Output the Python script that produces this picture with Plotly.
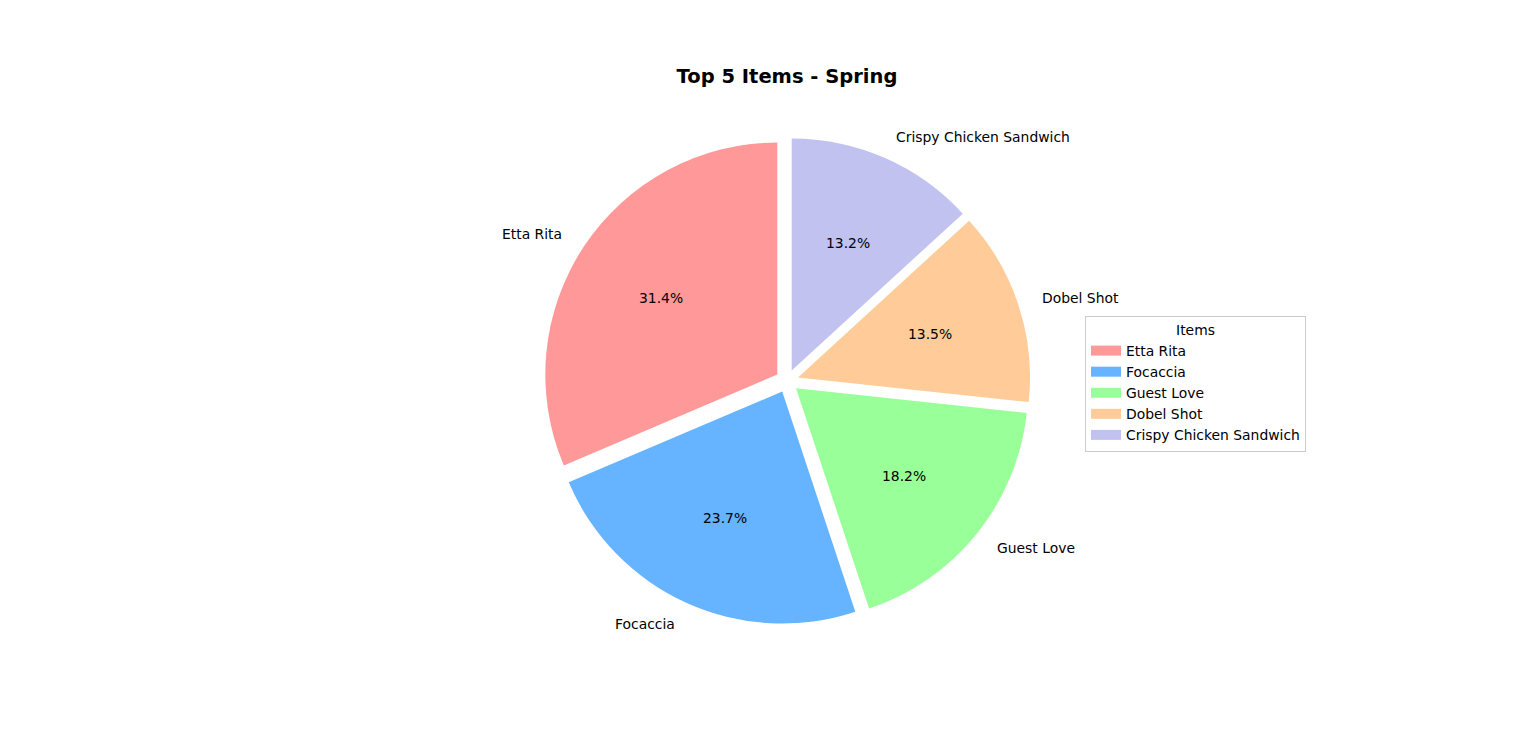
import math
import plotly.graph_objects as go

items = ["Etta Rita", "Focaccia", "Guest Love", "Dobel Shot", "Crispy Chicken Sandwich"]
shares = [31.4, 23.7, 18.2, 13.5, 13.2]
colors = ["#ff9999", "#66b3ff", "#99ff99", "#ffcc99", "#c2c2f0"]

W, H = 1536, 754
cx, cy, R = 779, 373, 232          # figure pixel coords of pie centre / radius
pull = 0.05
half = R * (1 + pull)
dom_x = [(cx - 320) / W, (cx + 320) / W]
dom_y = [1 - (cy + half) / H, 1 - (cy - half) / H]
total = sum(shares)
start_rot = -shares[0] / total * 360

font = "DejaVu Sans"
fs = 13.9
fig = go.Figure()
fig.add_trace(go.Pie(
    labels=items, values=shares, sort=False, direction="counterclockwise",
    rotation=start_rot, pull=[pull] * 5, domain=dict(x=dom_x, y=dom_y),
    marker=dict(colors=colors, line=dict(width=0)),
    textinfo="none", hoverinfo="label+percent", showlegend=False,
))

# legend entries (wide rectangular swatches)
for name, c in zip(items, colors):
    fig.add_trace(go.Scatter(x=[None], y=[None], mode="lines", name=name,
                             line=dict(color=c, width=10), hoverinfo="skip"))

# labels: percentages at 0.6 r, names at 1.1 r (from each exploded slice centre)
annotations = []
cum = 0.0
for name, v in zip(items, shares):
    mid = math.radians(90 + (cum + v / 2) / total * 360)
    cum += v
    ox = cx + pull * R * math.cos(mid)
    oy = cy - pull * R * math.sin(mid)
    px, py = ox + 0.6 * R * math.cos(mid), oy - 0.6 * R * math.sin(mid)
    annotations.append(dict(x=px / W, y=1 - py / H, xref="paper", yref="paper",
                            text=f"{v / total * 100:.1f}%", showarrow=False,
                            xanchor="center", yanchor="middle",
                            font=dict(family=font, size=fs, color="black")))
    lx, ly = ox + 1.1 * R * math.cos(mid), oy - 1.1 * R * math.sin(mid)
    annotations.append(dict(x=lx / W, y=1 - ly / H, xref="paper", yref="paper",
                            text=name, showarrow=False,
                            xanchor="left" if math.cos(mid) > 0 else "right",
                            yanchor="middle",
                            font=dict(family=font, size=fs, color="black")))

fig.update_layout(
    width=W, height=H, margin=dict(l=0, r=0, t=0, b=0),
    paper_bgcolor="white", plot_bgcolor="white",
    font=dict(family=font, size=fs, color="black"),
    xaxis=dict(visible=False), yaxis=dict(visible=False),
    annotations=annotations,
    title=dict(text="<b>Top 5 Items - Spring</b>", x=779 / W, xanchor="center",
               y=1 - 61 / H, yanchor="top", font=dict(family=font, size=19.5, color="black")),
    legend=dict(title=dict(text="Items", side="top center", font=dict(size=fs)),
                x=1077 / W, y=1 - 308 / H, xanchor="left", yanchor="top",
                bordercolor="#cccccc", borderwidth=1, bgcolor="white",
                font=dict(family=font, size=fs)),
)
fig.write_html("out.html")
